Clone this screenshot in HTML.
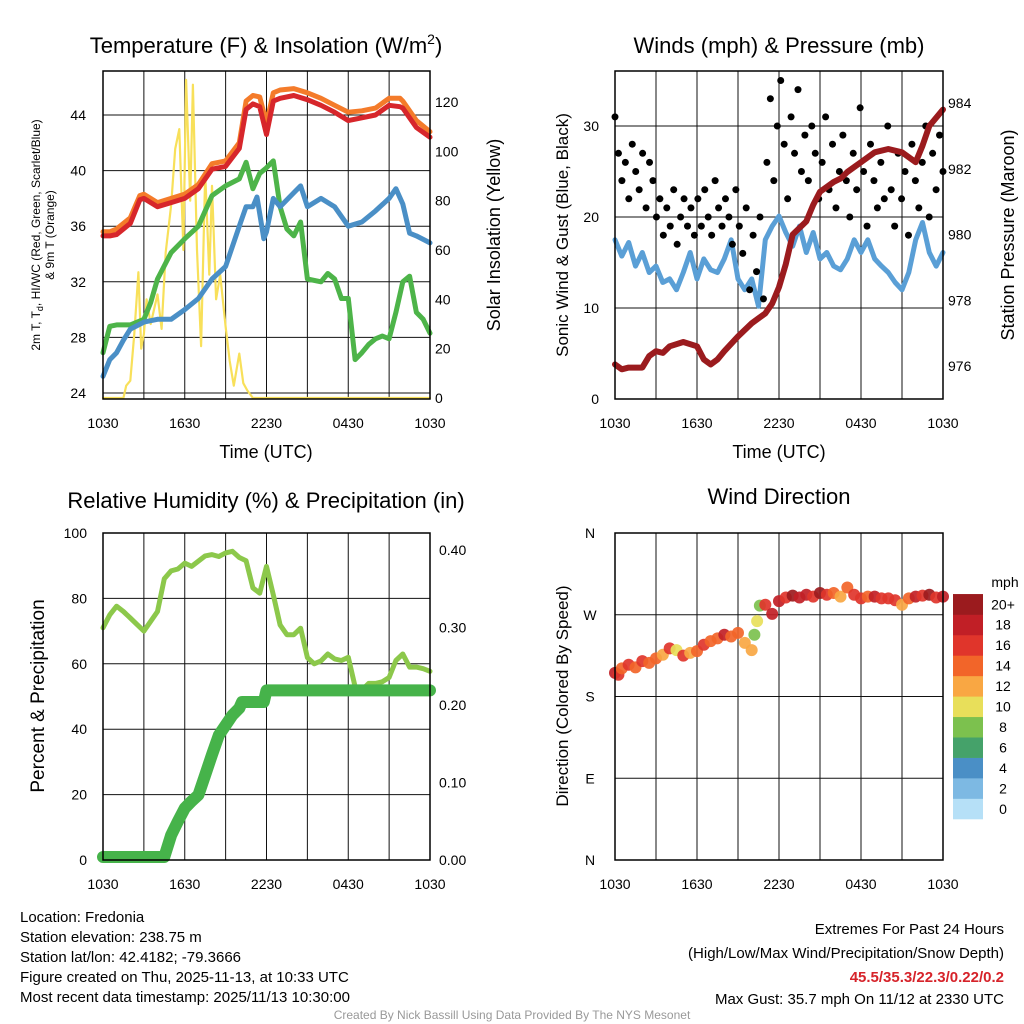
<!DOCTYPE html>
<html><head><meta charset="utf-8">
<style>
html,body{margin:0;padding:0;background:#fff;}
svg{display:block;font-family:"Liberation Sans",sans-serif;}
</style></head>
<body>
<svg id="fig" width="1024" height="1024" viewBox="0 0 1024 1024" xmlns="http://www.w3.org/2000/svg">
<rect width="1024" height="1024" fill="#fff"/>
<g id="p1"></g>
<g id="p2"></g>
<g id="p3"></g>
<g id="p4"></g>
<text x="266" y="53" font-size="22" text-anchor="middle">Temperature (F) &amp; Insolation (W/m<tspan font-size="14" dy="-9">2</tspan><tspan dy="9">)</tspan></text>
<text x="779" y="53" font-size="22" text-anchor="middle">Winds (mph) &amp; Pressure (mb)</text>
<text x="266" y="508" font-size="22" text-anchor="middle">Relative Humidity (%) &amp; Precipitation (in)</text>
<text x="779" y="504" font-size="22" text-anchor="middle">Wind Direction</text>
<g font-size="15">
<text x="20" y="922">Location: Fredonia</text>
<text x="20" y="942">Station elevation: 238.75 m</text>
<text x="20" y="962">Station lat/lon: 42.4182; -79.3666</text>
<text x="20" y="982">Figure created on Thu, 2025-11-13, at 10:33 UTC</text>
<text x="20" y="1002">Most recent data timestamp: 2025/11/13 10:30:00</text>
</g>
<g font-size="15" text-anchor="end">
<text x="1004" y="934">Extremes For Past 24 Hours</text>
<text x="1004" y="958">(High/Low/Max Wind/Precipitation/Snow Depth)</text>
<text x="1004" y="982" fill="#d6232a" font-weight="bold">45.5/35.3/22.3/0.22/0.2</text>
<text x="1004" y="1004">Max Gust: 35.7 mph On 11/12 at 2330 UTC</text>
</g>
<text x="512" y="1019" font-size="12" fill="#999" text-anchor="middle">Created By Nick Bassill Using Data Provided By The NYS Mesonet</text>
</svg>
<script>
// ---------- data ----------
const xTickLabels = ["1030","1630","2230","0430","1030"];
const tTimes = [0,0.5,1,2,2.7,3,4,5,6,7,8,9,10,10.5,11,11.5,12,12.5,13,14,15,16,17,18,19,20,21,21.8,22,23,24];
const tempRed =    [35.3,35.3,35.4,36.2,37.9,38.0,37.4,37.7,38.0,38.7,40.1,40.3,41.6,44.4,44.8,44.6,42.6,45.0,45.2,45.4,45.1,44.7,44.2,43.6,43.8,44.0,44.7,44.6,44.5,43.1,42.4];
const tempOrange = [35.6,35.6,35.8,36.6,38.2,38.3,37.7,38.0,38.3,39.0,40.5,40.7,42.0,45.0,45.4,45.3,43.4,45.6,45.8,45.9,45.6,45.2,44.7,44.2,44.3,44.5,45.2,45.2,45.0,43.6,42.8];
const dTimes = [0,0.5,1,2,3,3.5,4,5,6,7,8,9,10,10.5,11,11.5,12,12.5,13,13.5,14,14.5,15,16,16.5,17,17.5,18,18.5,19,19.5,20,20.5,21,21.5,22,22.5,23,23.5,24];
const dewGreen = [26.9,28.8,28.9,28.9,29.3,30.5,32.2,34.1,35.1,36.0,38.2,38.9,39.4,40.6,38.7,39.8,40.2,40.7,37.4,35.8,35.3,36.3,32.2,32.0,32.6,32.2,30.8,30.8,26.4,26.9,27.5,27.9,28.1,27.9,29.8,32.0,32.4,29.8,29.3,28.3];
const hTimes = [0,0.5,1,1.5,2,3,4,5,6,7,8,9,10,10.5,11,11.3,11.8,12,12.5,13,14,14.5,15,16,17,18,19,20,21,21.5,22,22.5,23,24];
const hiBlue = [25.2,26.4,26.9,27.8,28.6,29.1,29.3,29.3,30.0,30.8,32.2,33.1,36.0,37.4,37.4,38.1,35.1,35.6,38.0,37.4,38.4,38.9,37.4,38.0,37.4,36.0,36.3,37.1,38.0,38.7,37.6,35.5,35.3,34.8];
const sTimes = [0,1.5,1.7,2,2.3,2.6,2.8,3,3.2,3.5,4,4.3,4.6,5,5.3,5.6,5.9,6.1,6.4,6.6,6.9,7.2,7.5,7.8,8,8.3,8.6,9,9.3,9.6,10,10.3,10.6,11,24];
const solar = [0,0,5,7,26,51,20,26,40,30,42,28,59,78,101,109,60,129,80,127,60,21,91,50,86,40,50,29,15,5,18,6,3,0,0];
const tempTicks = [24,28,32,36,40,44];
const solarTicks = [0,20,40,60,80,100,120];

const wTimes = [0,0.5,1,1.5,2,2.5,3,3.5,4,4.5,5,5.5,6,6.5,7,7.5,8,8.5,9,9.5,10,10.5,11,11.5,12,12.5,13,13.5,14,14.5,15,15.5,16,16.5,17,17.5,18,18.5,19,19.5,20,20.5,21,21.5,22,22.5,23,23.5,24];
const sonicWind = [17.5,15.7,17.2,14.6,16.1,13.9,14.6,12.8,13.2,12.0,13.9,16.1,13.2,15.4,14.2,13.9,15.4,17.5,13.2,12.0,13.2,10.2,17.5,19.0,20.1,18.3,16.8,19.0,16.1,18.3,15.4,16.1,14.6,14.2,15.4,17.5,16.1,17.5,15.4,14.6,13.9,12.8,12.0,13.9,17.5,19.4,16.1,14.6,16.1];
const gusts = [31,27,24,26,22,28,25,23,27,21,26,24,20,22,18,21,19,23,17,20,22,19,21,18,22,19,23,20,18,24,21,19,22,20,17,23,19,16,21,12,18,14,20,11,26,33,24,30,35,28,22,31,27,34,25,29,24,30,27,22,26,31,23,28,21,25,29,24,20,27,23,32,25,19,28,24,21,26,22,30,23,19,27,22,25,18,28,24,21,26,30,20,27,23,29,25];
const pTimes = [0,0.5,1,2,2.5,3,3.5,4,5,6,6.5,7,7.5,8,9,10,10.5,11,11.5,12,12.5,13,14,14.5,15,16,16.5,17,18,19,20,21,22,22.5,23,24];
const pressure = [976.05,975.9,975.95,975.95,976.3,976.45,976.4,976.6,976.73,976.6,976.2,976.05,976.2,976.45,976.9,977.3,977.45,977.6,977.9,978.4,979.1,980.0,980.4,980.9,981.3,981.6,981.7,981.9,982.2,982.5,982.6,982.5,982.2,982.7,983.3,983.8];
const windTicks = [0,10,20,30];
const pressTicks = [976,978,980,982,984];

const rTimes = [0,0.5,1,1.5,2,2.5,3,3.5,4,4.5,5,5.5,6,6.5,7,7.5,8,8.5,9,9.5,10,10.5,11,11.5,12,12.5,13,13.5,14,14.5,15,15.5,16,16.5,17,17.5,18,18.5,19,19.5,20,20.5,21,21.5,22,22.5,23,23.5,24];
const relHum = [71,75,77.6,76,74,72,70,73,76,86,88.4,89,90.8,89.8,91.4,93,93.4,92.8,93.9,94.4,92.5,91.5,83.2,81.6,89.8,81.1,71.9,68.9,68.9,70.9,61.9,60.0,60.9,63,61.5,61,62,53,52,54,54,54.5,55.8,61,63,59,59,58.5,57.7];
const precTimes = [0,4.5,5,5.5,6,6.5,7,7.5,8,8.5,9,9.5,10,10.2,11,11.8,12,24];
const precip = [0,0,0.028,0.046,0.063,0.072,0.080,0.106,0.132,0.157,0.170,0.183,0.192,0.200,0.200,0.200,0.215,0.215];
const rhTicks = [0,20,40,60,80,100];
const precTicks = ["0.00","0.10","0.20","0.30","0.40"];

const dirTimes = [0,0.25,0.5,1,1.5,2,2.5,3,3.5,4,4.5,5,5.5,6,6.5,7,7.5,8,8.5,9,9.5,10,10.2,10.4,10.6,11,11.5,12,12.5,13,13.5,14,14.5,15,15.5,16,16.5,17,17.5,18,18.5,19,19.5,20,20.5,21,21.5,22,22.5,23,23.5,24];
const dirDeg = [206,204,211,215,212,219,217,222,226,233,231,225,228,230,237,241,244,248,246,250,239,231,248,263,280,281,271,285,289,291,289,292,290,294,292,294,290,300,292,288,290,290,288,288,286,281,288,290,291,292,289,290];
const dirSpeed = [19,17,15,16,15,17,14,15,12,16,11,17,13,15,16,15,14,18,15,14,13,12,9,10,8,16,19,18,17,20,19,18,16,20,17,15,12,14,16,17,15,19,17,16,16,13,15,18,17,20,16,18];
const dirLabels = ["N","E","S","W","N"];
const cbLabels = ["0","2","4","6","8","10","12","14","16","18","20+"];
const cbColors = ["#b6e0f7","#7db9e3","#4a8fc6","#45a26a","#7cc14e","#e8df5a","#f9a743","#f26529","#e0352b","#c11f26","#9b1b1e"];

// ---------- helpers ----------
const NS="http://www.w3.org/2000/svg";
function mk(parent,tag,attrs){const e=document.createElementNS(NS,tag);for(const k in attrs)e.setAttribute(k,attrs[k]);parent.appendChild(e);return e;}
function lin(d0,d1,r0,r1){return v=>r0+(v-d0)*(r1-r0)/(d1-d0);}
function pathD(xs,ys,fx,fy){return xs.map((t,i)=>(i?"L":"M")+fx(t).toFixed(1)+","+fy(ys[i]).toFixed(1)).join("");}

function frame(g,x0,x1,y0,y1,hY){
  const xs=lin(0,24,x0,x1);
  for(let h=3;h<24;h+=3){const l=mk(g,"line",{x1:xs(h),x2:xs(h),y1:y0,y2:y1,stroke:"#111","stroke-width":1});
    
    }
  hY.forEach(y=>{const l=mk(g,"line",{x1:x0,x2:x1,y1:y,y2:y,stroke:"#111","stroke-width":1});
    
    });
  xTickLabels.forEach((s,i)=>{const t=mk(g,"text",{x:xs(i*6),y:y1+29,"font-size":14,"text-anchor":"middle"});t.textContent=s;
    
    });
  return xs;
}
function border(g,x0,x1,y0,y1){const r=mk(g,"rect",{x:x0,y:y0,width:x1-x0,height:y1-y0,fill:"none",stroke:"#000","stroke-width":1.5});
  
  }
function label(g,txt,x,y,size,anchor,rot,name){const t=mk(g,"text",{x:x,y:y,"font-size":size,"text-anchor":anchor||"start"});
  if(rot)t.setAttribute("transform",`rotate(-90 ${x} ${y})`);t.textContent=txt;
  
  return t;}
function series(g,xs,ys,fx,fy,color,w,name){const p=mk(g,"path",{d:pathD(xs,ys,fx,fy),fill:"none",stroke:color,"stroke-width":w,"stroke-linejoin":"round","stroke-linecap":"round"});
  
  return p;}

// ---------- panel 1 ----------
(function(){
  const g=document.getElementById("p1");const x0=103,x1=430,y0=71,y1=399;
  const fy=lin(24,44,393,115), fs=lin(0,120,398,102);
  const xs=frame(g,x0,x1,y0,y1,tempTicks.map(fy));
  tempTicks.forEach(v=>label(g,String(v),x0-17,fy(v)+5,14,"end",false,"left-tick-label"));
  solarTicks.forEach(v=>label(g,String(v),x1+5,fs(v)+5,14,"start",false,"right-tick-label"));
  series(g,sTimes,solar,xs,fs,"#f8e05a",2.2,"solar-insolation-line");
  series(g,dTimes,dewGreen,xs,fy,"#4db449",5,"dewpoint-line");
  series(g,hTimes,hiBlue,xs,fy,"#4a8fc6",5,"heat-index-wind-chill-line");
  series(g,tTimes,tempOrange,xs,fy,"#f47b2a",5,"temp-9m-line");
  series(g,tTimes,tempRed,xs,fy,"#d7262b",5,"temp-2m-line");
  border(g,x0,x1,y0,y1);
  label(g,"Time (UTC)",266,458,18,"middle",false,"x-axis-title");
  label(g,"Solar Insolation (Yellow)",500,235,18,"middle",true,"right-axis-title");
  label(g,"2m T, T",40,235,12,"middle",true,"left-axis-title").innerHTML='2m T, T<tspan font-size="9" dy="3">d</tspan><tspan dy="-3">, HI/WC (Red, Green, Scarlet/Blue)</tspan>';
  label(g,"& 9m T (Orange)",54,235,12,"middle",true,"left-axis-title-line2");
})();

// ---------- panel 2 ----------
(function(){
  const g=document.getElementById("p2");const x0=615,x1=943,y0=71,y1=399;
  const fy=lin(0,30,399,126), fp=lin(976,984,366,103);
  const xs=frame(g,x0,x1,y0,y1,windTicks.slice(1).map(fy));
  windTicks.forEach(v=>label(g,String(v),x0-16,fy(v)+5,14,"end",false,"left-tick-label"));
  pressTicks.forEach(v=>label(g,String(v),x1+5,fp(v)+5,14,"start",false,"right-tick-label"));
  series(g,wTimes,sonicWind,xs,fy,"#5a9fd6",5,"sonic-wind-line");
  gusts.forEach((v,i)=>{const c=mk(g,"circle",{cx:xs(i*24/(gusts.length-1)),cy:fy(v),r:3.5,fill:"#000"});
    
    });
  series(g,pTimes,pressure,xs,fp,"#9b1b1e",6,"pressure-line");
  border(g,x0,x1,y0,y1);
  label(g,"Time (UTC)",779,458,18,"middle",false,"x-axis-title");
  label(g,"Sonic Wind & Gust (Blue, Black)",568,235,17,"middle",true,"left-axis-title");
  label(g,"Station Pressure (Maroon)",1014,235,18,"middle",true,"right-axis-title");
})();

// ---------- panel 3 ----------
(function(){
  const g=document.getElementById("p3");const x0=103,x1=430,y0=533,y1=860;
  const fy=lin(0,100,860,533), fp=lin(0,0.4,860,550);
  const xs=frame(g,x0,x1,y0,y1,rhTicks.slice(1,5).map(fy));
  rhTicks.forEach(v=>label(g,String(v),x0-16,fy(v)+5,14,"end",false,"left-tick-label"));
  precTicks.forEach(s=>label(g,s,x1+9,fp(parseFloat(s))+5,14,"start",false,"right-tick-label"));
  series(g,rTimes,relHum,xs,fy,"#8cc84b",5,"relative-humidity-line");
  series(g,precTimes,precip,xs,v=>fp(v)-3,"#46b34a",12,"precipitation-line");
  border(g,x0,x1,y0,y1);
  label(g,"Percent & Precipitation",44,696,19,"middle",true,"left-axis-title");
})();

// ---------- panel 4 ----------
(function(){
  const g=document.getElementById("p4");const x0=615,x1=943,y0=533,y1=860;
  const fy=lin(0,360,860,533);
  const xs=frame(g,x0,x1,y0,y1,[90,180,270].map(fy));
  dirLabels.forEach((s,i)=>label(g,s,x0-25,fy(i*90)+5,14,"middle",false,"direction-tick-label"));
  const colorFor=s=>cbColors[Math.min(10,Math.max(0,Math.floor(s/2)))];
  dirDeg.forEach((d,i)=>{const c=mk(g,"circle",{cx:xs(dirTimes[i]),cy:fy(d),r:6,fill:colorFor(dirSpeed[i]),"fill-opacity":0.92});
    
    });
  border(g,x0,x1,y0,y1);
  label(g,"Direction (Colored By Speed)",568,696,17,"middle",true,"left-axis-title");
  const cy0=819,bh=20.45;
  cbColors.forEach((col,i)=>{const r=mk(g,"rect",{x:953,y:cy0-(i+1)*bh,width:30,height:bh+0.3,fill:col});
    
    });
  cbLabels.forEach((s,i)=>label(g,s,1003,cy0-(i+0.5)*bh+5,14,"middle",false,"colorbar-label"));
  label(g,"mph",1005,587,14,"middle",false,"colorbar-title");
})();
</script>
</body></html>
